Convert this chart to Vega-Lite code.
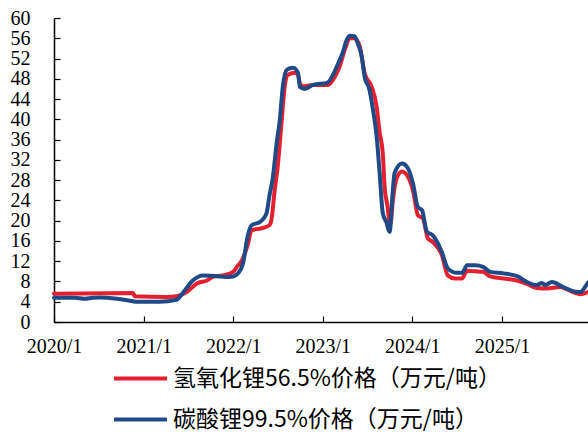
{
  "$schema": "https://vega.github.io/schema/vega-lite/v6.json",
  "autosize": "none",
  "width": 534,
  "height": 304,
  "padding": {"left": 54, "top": 18, "right": 0, "bottom": 111},
  "background": "white",
  "config": {"view": {"stroke": null}},
  "data": {
    "values": [
      {"date": "2020-01-01", "price": 5.6, "series": "氢氧化锂56.5%价格（万元/吨）"},
      {"date": "2020-11-18", "price": 5.7, "series": "氢氧化锂56.5%价格（万元/吨）"},
      {"date": "2020-11-26", "price": 5.1, "series": "氢氧化锂56.5%价格（万元/吨）"},
      {"date": "2021-04-05", "price": 4.95, "series": "氢氧化锂56.5%价格（万元/吨）"},
      {"date": "2021-05-15", "price": 5.1, "series": "氢氧化锂56.5%价格（万元/吨）"},
      {"date": "2021-06-25", "price": 5.9, "series": "氢氧化锂56.5%价格（万元/吨）"},
      {"date": "2021-08-06", "price": 7.6, "series": "氢氧化锂56.5%价格（万元/吨）"},
      {"date": "2021-09-16", "price": 8.2, "series": "氢氧化锂56.5%价格（万元/吨）"},
      {"date": "2021-10-10", "price": 8.9, "series": "氢氧化锂56.5%价格（万元/吨）"},
      {"date": "2021-11-20", "price": 9.2, "series": "氢氧化锂56.5%价格（万元/吨）"},
      {"date": "2022-01-01", "price": 9.9, "series": "氢氧化锂56.5%价格（万元/吨）"},
      {"date": "2022-01-21", "price": 11.2, "series": "氢氧化锂56.5%价格（万元/吨）"},
      {"date": "2022-01-29", "price": 11.6, "series": "氢氧化锂56.5%价格（万元/吨）"},
      {"date": "2022-03-01", "price": 15.2, "series": "氢氧化锂56.5%价格（万元/吨）"},
      {"date": "2022-03-17", "price": 18.1, "series": "氢氧化锂56.5%价格（万元/吨）"},
      {"date": "2022-04-27", "price": 18.5, "series": "氢氧化锂56.5%价格（万元/吨）"},
      {"date": "2022-05-29", "price": 19.1, "series": "氢氧化锂56.5%价格（万元/吨）"},
      {"date": "2022-06-07", "price": 20.5, "series": "氢氧化锂56.5%价格（万元/吨）"},
      {"date": "2022-06-19", "price": 26.0, "series": "氢氧化锂56.5%价格（万元/吨）"},
      {"date": "2022-07-01", "price": 30.5, "series": "氢氧化锂56.5%价格（万元/吨）"},
      {"date": "2022-07-18", "price": 39.9, "series": "氢氧化锂56.5%价格（万元/吨）"},
      {"date": "2022-07-30", "price": 46.5, "series": "氢氧化锂56.5%价格（万元/吨）"},
      {"date": "2022-08-12", "price": 48.8, "series": "氢氧化锂56.5%价格（万元/吨）"},
      {"date": "2022-09-10", "price": 49.2, "series": "氢氧化锂56.5%价格（万元/吨）"},
      {"date": "2022-09-22", "price": 48.8, "series": "氢氧化锂56.5%价格（万元/吨）"},
      {"date": "2022-09-30", "price": 47.1, "series": "氢氧化锂56.5%价格（万元/吨）"},
      {"date": "2022-10-12", "price": 46.5, "series": "氢氧化锂56.5%价格（万元/吨）"},
      {"date": "2022-11-23", "price": 46.8, "series": "氢氧化锂56.5%价格（万元/吨）"},
      {"date": "2023-01-23", "price": 46.8, "series": "氢氧化锂56.5%价格（万元/吨）"},
      {"date": "2023-02-12", "price": 47.8, "series": "氢氧化锂56.5%价格（万元/吨）"},
      {"date": "2023-03-11", "price": 50.4, "series": "氢氧化锂56.5%价格（万元/吨）"},
      {"date": "2023-04-01", "price": 53.7, "series": "氢氧化锂56.5%价格（万元/吨）"},
      {"date": "2023-04-21", "price": 56.0, "series": "氢氧化锂56.5%价格（万元/吨）"},
      {"date": "2023-05-11", "price": 56.0, "series": "氢氧化锂56.5%价格（万元/吨）"},
      {"date": "2023-06-01", "price": 54.4, "series": "氢氧化锂56.5%价格（万元/吨）"},
      {"date": "2023-06-21", "price": 49.1, "series": "氢氧化锂56.5%价格（万元/吨）"},
      {"date": "2023-07-19", "price": 46.5, "series": "氢氧化锂56.5%价格（万元/吨）"},
      {"date": "2023-08-09", "price": 42.5, "series": "氢氧化锂56.5%价格（万元/吨）"},
      {"date": "2023-08-21", "price": 37.5, "series": "氢氧化锂56.5%价格（万元/吨）"},
      {"date": "2023-09-03", "price": 33.3, "series": "氢氧化锂56.5%价格（万元/吨）"},
      {"date": "2023-09-11", "price": 26.4, "series": "氢氧化锂56.5%价格（万元/吨）"},
      {"date": "2023-09-23", "price": 22.7, "series": "氢氧化锂56.5%价格（万元/吨）"},
      {"date": "2023-10-01", "price": 19.5, "series": "氢氧化锂56.5%价格（万元/吨）"},
      {"date": "2023-10-05", "price": 19.5, "series": "氢氧化锂56.5%价格（万元/吨）"},
      {"date": "2023-10-13", "price": 23.5, "series": "氢氧化锂56.5%价格（万元/吨）"},
      {"date": "2023-10-30", "price": 28.4, "series": "氢氧化锂56.5%价格（万元/吨）"},
      {"date": "2023-11-20", "price": 29.7, "series": "氢氧化锂56.5%价格（万元/吨）"},
      {"date": "2023-12-14", "price": 28.7, "series": "氢氧化锂56.5%价格（万元/吨）"},
      {"date": "2024-01-04", "price": 26.0, "series": "氢氧化锂56.5%价格（万元/吨）"},
      {"date": "2024-01-24", "price": 21.1, "series": "氢氧化锂56.5%价格（万元/吨）"},
      {"date": "2024-02-14", "price": 20.4, "series": "氢氧化锂56.5%价格（万元/吨）"},
      {"date": "2024-03-05", "price": 16.5, "series": "氢氧化锂56.5%价格（万元/吨）"},
      {"date": "2024-03-25", "price": 15.8, "series": "氢氧化锂56.5%价格（万元/吨）"},
      {"date": "2024-05-01", "price": 13.2, "series": "氢氧化锂56.5%价格（万元/吨）"},
      {"date": "2024-05-25", "price": 9.2, "series": "氢氧化锂56.5%价格（万元/吨）"},
      {"date": "2024-06-23", "price": 8.6, "series": "氢氧化锂56.5%价格（万元/吨）"},
      {"date": "2024-07-22", "price": 8.6, "series": "氢氧化锂56.5%价格（万元/吨）"},
      {"date": "2024-08-12", "price": 10.1, "series": "氢氧化锂56.5%价格（万元/吨）"},
      {"date": "2024-09-14", "price": 10.0, "series": "氢氧化锂56.5%价格（万元/吨）"},
      {"date": "2024-10-16", "price": 9.9, "series": "氢氧化锂56.5%价格（万元/吨）"},
      {"date": "2024-11-14", "price": 9.0, "series": "氢氧化锂56.5%价格（万元/吨）"},
      {"date": "2025-01-07", "price": 8.6, "series": "氢氧化锂56.5%价格（万元/吨）"},
      {"date": "2025-03-03", "price": 8.2, "series": "氢氧化锂56.5%价格（万元/吨）"},
      {"date": "2025-04-13", "price": 7.5, "series": "氢氧化锂56.5%价格（万元/吨）"},
      {"date": "2025-05-23", "price": 6.7, "series": "氢氧化锂56.5%价格（万元/吨）"},
      {"date": "2025-07-04", "price": 6.6, "series": "氢氧化锂56.5%价格（万元/吨）"},
      {"date": "2025-08-26", "price": 6.9, "series": "氢氧化锂56.5%价格（万元/吨）"},
      {"date": "2025-10-18", "price": 5.9, "series": "氢氧化锂56.5%价格（万元/吨）"},
      {"date": "2025-11-16", "price": 5.5, "series": "氢氧化锂56.5%价格（万元/吨）"},
      {"date": "2025-12-18", "price": 5.9, "series": "氢氧化锂56.5%价格（万元/吨）"},

      {"date": "2020-01-01", "price": 4.8, "series": "碳酸锂99.5%价格（万元/吨）"},
      {"date": "2020-03-26", "price": 4.8, "series": "碳酸锂99.5%价格（万元/吨）"},
      {"date": "2020-05-05", "price": 4.6, "series": "碳酸锂99.5%价格（万元/吨）"},
      {"date": "2020-06-07", "price": 4.8, "series": "碳酸锂99.5%价格（万元/吨）"},
      {"date": "2020-07-06", "price": 4.85, "series": "碳酸锂99.5%价格（万元/吨）"},
      {"date": "2020-09-14", "price": 4.6, "series": "碳酸锂99.5%价格（万元/吨）"},
      {"date": "2020-11-18", "price": 4.1, "series": "碳酸锂99.5%价格（万元/吨）"},
      {"date": "2020-12-04", "price": 4.0, "series": "碳酸锂99.5%价格（万元/吨）"},
      {"date": "2021-03-07", "price": 4.0, "series": "碳酸锂99.5%价格（万元/吨）"},
      {"date": "2021-05-15", "price": 4.4, "series": "碳酸锂99.5%价格（万元/吨）"},
      {"date": "2021-06-09", "price": 5.7, "series": "碳酸锂99.5%价格（万元/吨）"},
      {"date": "2021-07-20", "price": 8.2, "series": "碳酸锂99.5%价格（万元/吨）"},
      {"date": "2021-08-30", "price": 9.2, "series": "碳酸锂99.5%价格（万元/吨）"},
      {"date": "2021-11-08", "price": 9.0, "series": "碳酸锂99.5%价格（万元/吨）"},
      {"date": "2021-11-28", "price": 8.9, "series": "碳酸锂99.5%价格（万元/吨）"},
      {"date": "2022-01-01", "price": 9.0, "series": "碳酸锂99.5%价格（万元/吨）"},
      {"date": "2022-01-21", "price": 9.6, "series": "碳酸锂99.5%价格（万元/吨）"},
      {"date": "2022-02-10", "price": 11.6, "series": "碳酸锂99.5%价格（万元/吨）"},
      {"date": "2022-03-01", "price": 17.0, "series": "碳酸锂99.5%价格（万元/吨）"},
      {"date": "2022-03-17", "price": 19.1, "series": "碳酸锂99.5%价格（万元/吨）"},
      {"date": "2022-04-19", "price": 19.7, "series": "碳酸锂99.5%价格（万元/吨）"},
      {"date": "2022-04-27", "price": 20.0, "series": "碳酸锂99.5%价格（万元/吨）"},
      {"date": "2022-05-09", "price": 20.7, "series": "碳酸锂99.5%价格（万元/吨）"},
      {"date": "2022-05-17", "price": 21.5, "series": "碳酸锂99.5%价格（万元/吨）"},
      {"date": "2022-05-29", "price": 25.0, "series": "碳酸锂99.5%价格（万元/吨）"},
      {"date": "2022-06-11", "price": 28.3, "series": "碳酸锂99.5%价格（万元/吨）"},
      {"date": "2022-06-27", "price": 35.3, "series": "碳酸锂99.5%价格（万元/吨）"},
      {"date": "2022-07-10", "price": 39.9, "series": "碳酸锂99.5%价格（万元/吨）"},
      {"date": "2022-07-22", "price": 46.4, "series": "碳酸锂99.5%价格（万元/吨）"},
      {"date": "2022-08-08", "price": 49.8, "series": "碳酸锂99.5%价格（万元/吨）"},
      {"date": "2022-09-02", "price": 50.2, "series": "碳酸锂99.5%价格（万元/吨）"},
      {"date": "2022-09-22", "price": 49.2, "series": "碳酸锂99.5%价格（万元/吨）"},
      {"date": "2022-09-30", "price": 46.4, "series": "碳酸锂99.5%价格（万元/吨）"},
      {"date": "2022-10-20", "price": 46.0, "series": "碳酸锂99.5%价格（万元/吨）"},
      {"date": "2022-11-23", "price": 46.8, "series": "碳酸锂99.5%价格（万元/吨）"},
      {"date": "2023-01-19", "price": 47.2, "series": "碳酸锂99.5%价格（万元/吨）"},
      {"date": "2023-02-12", "price": 48.8, "series": "碳酸锂99.5%价格（万元/吨）"},
      {"date": "2023-03-03", "price": 50.8, "series": "碳酸锂99.5%价格（万元/吨）"},
      {"date": "2023-03-23", "price": 53.1, "series": "碳酸锂99.5%价格（万元/吨）"},
      {"date": "2023-04-09", "price": 55.7, "series": "碳酸锂99.5%价格（万元/吨）"},
      {"date": "2023-04-21", "price": 56.5, "series": "碳酸锂99.5%价格（万元/吨）"},
      {"date": "2023-05-11", "price": 56.4, "series": "碳酸锂99.5%价格（万元/吨）"},
      {"date": "2023-05-23", "price": 55.1, "series": "碳酸锂99.5%价格（万元/吨）"},
      {"date": "2023-06-09", "price": 52.4, "series": "碳酸锂99.5%价格（万元/吨）"},
      {"date": "2023-06-21", "price": 48.4, "series": "碳酸锂99.5%价格（万元/吨）"},
      {"date": "2023-07-11", "price": 45.8, "series": "碳酸锂99.5%价格（万元/吨）"},
      {"date": "2023-07-23", "price": 42.5, "series": "碳酸锂99.5%价格（万元/吨）"},
      {"date": "2023-08-09", "price": 36.6, "series": "碳酸锂99.5%价格（万元/吨）"},
      {"date": "2023-08-21", "price": 29.5, "series": "碳酸锂99.5%价格（万元/吨）"},
      {"date": "2023-09-03", "price": 21.5, "series": "碳酸锂99.5%价格（万元/吨）"},
      {"date": "2023-09-19", "price": 19.5, "series": "碳酸锂99.5%价格（万元/吨）"},
      {"date": "2023-09-27", "price": 18.1, "series": "碳酸锂99.5%价格（万元/吨）"},
      {"date": "2023-10-01", "price": 17.8, "series": "碳酸锂99.5%价格（万元/吨）"},
      {"date": "2023-10-13", "price": 25.4, "series": "碳酸锂99.5%价格（万元/吨）"},
      {"date": "2023-10-21", "price": 29.4, "series": "碳酸锂99.5%价格（万元/吨）"},
      {"date": "2023-11-20", "price": 31.3, "series": "碳酸锂99.5%价格（万元/吨）"},
      {"date": "2023-12-14", "price": 30.4, "series": "碳酸锂99.5%价格（万元/吨）"},
      {"date": "2024-01-04", "price": 27.4, "series": "碳酸锂99.5%价格（万元/吨）"},
      {"date": "2024-01-24", "price": 22.7, "series": "碳酸锂99.5%价格（万元/吨）"},
      {"date": "2024-02-10", "price": 22.1, "series": "碳酸锂99.5%价格（万元/吨）"},
      {"date": "2024-03-01", "price": 17.8, "series": "碳酸锂99.5%价格（万元/吨）"},
      {"date": "2024-03-25", "price": 17.1, "series": "碳酸锂99.5%价格（万元/吨）"},
      {"date": "2024-05-01", "price": 13.8, "series": "碳酸锂99.5%价格（万元/吨）"},
      {"date": "2024-05-25", "price": 10.6, "series": "碳酸锂99.5%价格（万元/吨）"},
      {"date": "2024-07-01", "price": 9.7, "series": "碳酸锂99.5%价格（万元/吨）"},
      {"date": "2024-07-22", "price": 9.7, "series": "碳酸锂99.5%价格（万元/吨）"},
      {"date": "2024-08-12", "price": 11.2, "series": "碳酸锂99.5%价格（万元/吨）"},
      {"date": "2024-09-14", "price": 11.2, "series": "碳酸锂99.5%价格（万元/吨）"},
      {"date": "2024-10-16", "price": 10.9, "series": "碳酸锂99.5%价格（万元/吨）"},
      {"date": "2024-11-14", "price": 9.9, "series": "碳酸锂99.5%价格（万元/吨）"},
      {"date": "2025-01-07", "price": 9.6, "series": "碳酸锂99.5%价格（万元/吨）"},
      {"date": "2025-03-07", "price": 9.0, "series": "碳酸锂99.5%价格（万元/吨）"},
      {"date": "2025-04-13", "price": 7.9, "series": "碳酸锂99.5%价格（万元/吨）"},
      {"date": "2025-05-23", "price": 7.3, "series": "碳酸锂99.5%价格（万元/吨）"},
      {"date": "2025-06-13", "price": 7.7, "series": "碳酸锂99.5%价格（万元/吨）"},
      {"date": "2025-06-26", "price": 7.3, "series": "碳酸锂99.5%价格（万元/吨）"},
      {"date": "2025-07-24", "price": 7.9, "series": "碳酸锂99.5%价格（万元/吨）"},
      {"date": "2025-09-08", "price": 6.9, "series": "碳酸锂99.5%价格（万元/吨）"},
      {"date": "2025-10-18", "price": 6.1, "series": "碳酸锂99.5%价格（万元/吨）"},
      {"date": "2025-11-16", "price": 5.9, "series": "碳酸锂99.5%价格（万元/吨）"},
      {"date": "2025-12-06", "price": 6.9, "series": "碳酸锂99.5%价格（万元/吨）"},
      {"date": "2025-12-18", "price": 7.8, "series": "碳酸锂99.5%价格（万元/吨）"}
    ]
  },
  "mark": {"type": "line", "strokeWidth": 4, "interpolate": "monotone", "strokeJoin": "round", "strokeCap": "round"},
  "encoding": {
    "x": {
      "field": "date", "type": "temporal",
      "scale": {"domain": ["2020-01-01", "2025-12-18"]},
      "axis": {
        "title": null, "format": "%Y/%-m", "tickCount": {"interval": "year", "step": 1},
        "grid": false, "labelFont": "Liberation Serif", "labelFontSize": 20, "labelColor": "black",
        "domainColor": "black", "domainWidth": 1.5, "tickColor": "black", "tickWidth": 1.2, "tickSize": -6,
        "labelPadding": 20, "labelFlush": false, "labelOverlap": false
      }
    },
    "y": {
      "field": "price", "type": "quantitative",
      "scale": {"domain": [0, 60], "nice": false},
      "axis": {
        "title": null, "values": [0,4,8,12,16,20,24,28,32,36,40,44,48,52,56,60],
        "grid": false, "labelFont": "Liberation Serif", "labelFontSize": 20, "labelColor": "black",
        "domainColor": "black", "domainWidth": 1.5, "tickColor": "black", "tickWidth": 1.2, "tickSize": -6,
        "labelPadding": 30, "labelOverlap": false, "labelFlush": false
      }
    },
    "color": {
      "field": "series", "type": "nominal",
      "sort": ["氢氧化锂56.5%价格（万元/吨）", "碳酸锂99.5%价格（万元/吨）"],
      "scale": {"domain": ["氢氧化锂56.5%价格（万元/吨）", "碳酸锂99.5%价格（万元/吨）"], "range": ["#E5202E", "#204A87"]},
      "legend": {
        "orient": "none", "legendX": 58, "legendY": 332, "title": null,
        "symbolType": "stroke", "symbolSize": 2809, "symbolStrokeWidth": 4,
        "labelFont": "Noto Sans CJK SC", "labelFontSize": 23, "labelColor": "black", "labelLimit": 0,
        "rowPadding": -13, "labelOffset": 4, "padding": 0
      }
    }
  }
}
